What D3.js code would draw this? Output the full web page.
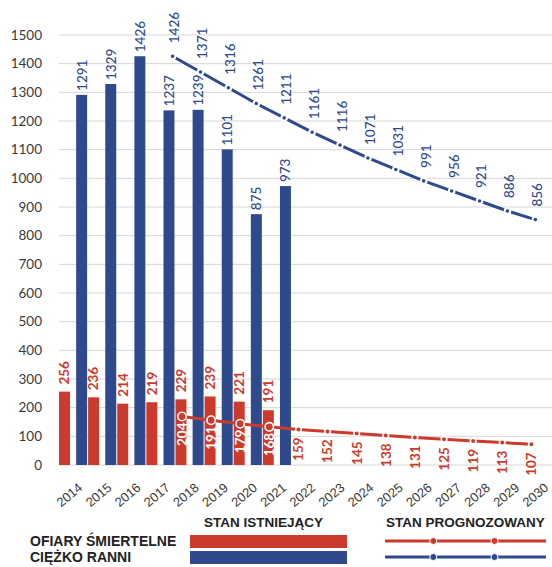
<!DOCTYPE html>
<html><head><meta charset="utf-8">
<script src="https://cdn.jsdelivr.net/npm/d3@7"></script>
<style>html,body{margin:0;padding:0;background:#fff;}svg{display:block;}</style>
</head><body>
<script>
const years = ["2014","2015","2016","2017","2018","2019","2020","2021","2022","2023","2024","2025","2026","2027","2028","2029","2030"];
const actualYears = ["2014","2015","2016","2017","2018","2019","2020","2021"];
const deathsActual = [256,236,214,219,229,239,221,191];
const injuredActual = [1291,1329,1426,1237,1239,1101,875,973];
const deathsForecastYears = ["2018","2019","2020","2021","2022","2023","2024","2025","2026","2027","2028","2029","2030"];
const deathsForecast = [204,191,179,168,159,152,145,138,131,125,119,113,107];
const injuredForecastYears = ["2017","2018","2019","2020","2021","2022","2023","2024","2025","2026","2027","2028","2029","2030"];
const injuredForecast = [1426,1371,1316,1261,1211,1161,1116,1071,1031,991,956,921,886,856];
const yTicks = [0,100,200,300,400,500,600,700,800,900,1000,1100,1200,1300,1400,1500];
const legendHeaders = ["STAN ISTNIEJĄCY","STAN PROGNOZOWANY"];
const legendSeries = ["OFIARY ŚMIERTELNE","CIĘŻKO RANNI"];

const RED = "#cc3a2c", BLUE = "#2f4a8c", TXT = "#3a3a3a";
const W = 552, H = 567;
const plot = {left: 59, right: 554, top: 35, bottom: 465};

const svg = d3.select("body").append("svg").attr("width", W).attr("height", H)
  .style("font-family", "Lato, 'Open Sans', sans-serif");

const x = d3.scaleBand().domain(years).range([plot.left, plot.right]).padding(0);
const x1 = d3.scaleBand().domain(["d","i"]).range([0, x.bandwidth()-1]).paddingInner(0.36).paddingOuter(0);
const y = d3.scaleLinear().domain([0,1500]).range([plot.bottom, plot.top]);
const yRight = d3.scaleLinear().domain([0,1500]).range([plot.bottom+10, plot.top+10]);
const xLine = d3.scalePoint().domain(injuredForecastYears)
  .range([x("2017")+x.bandwidth()*0.9, x("2030")+x.bandwidth()*0.36]);

// gridlines
svg.append("g").selectAll("line").data(yTicks).join("line")
  .attr("x1", plot.left).attr("x2", W).attr("y1", d=>y(d)).attr("y2", d=>y(d))
  .attr("stroke", "#d6d6d6").attr("stroke-width", 1);

// y axis labels
const yAxis = d3.axisLeft(y).tickValues(yTicks).tickFormat(d3.format("d")).tickSize(0).tickPadding(0);
const gy = svg.append("g").attr("transform", `translate(${plot.left-17},0)`).call(yAxis);
gy.select(".domain").remove();
gy.selectAll("text").attr("font-size", 13.5).attr("fill", TXT).attr("font-family", "Lato, sans-serif");

// x axis labels
const xAxis = d3.axisBottom(x).tickSize(0).tickPadding(0);
const gx = svg.append("g").attr("transform", `translate(0,${plot.bottom+17})`).call(xAxis);
gx.select(".domain").remove();
gx.selectAll("text").attr("font-size", 13).attr("fill", TXT)
  .attr("text-anchor", "end").attr("dy", "0.7em").attr("y", 0)
  .attr("transform", "translate(4,0) rotate(-40)");

// bars
const redBars = actualYears.map((yr,i)=>({yr, v: deathsActual[i]}));
const blueBars = actualYears.map((yr,i)=>({yr, v: injuredActual[i]}));
svg.append("g").selectAll("rect").data(redBars).join("rect")
  .attr("x", d=>x(d.yr)+x1("d")).attr("width", x1.bandwidth())
  .attr("y", d=>y(d.v)).attr("height", d=>y(0)-y(d.v)).attr("fill", RED);
svg.append("g").selectAll("rect").data(blueBars).join("rect")
  .attr("x", d=>x(d.yr)+x1("i")).attr("width", x1.bandwidth())
  .attr("y", d=>y(d.v)).attr("height", d=>y(0)-y(d.v)).attr("fill", BLUE);

function vlabel(g, data, fx, fy, anchor, fill, weight, size) {
  g.selectAll("text").data(data).join("text")
    .attr("transform", d=>`translate(${fx(d)},${fy(d)}) rotate(-90)`)
    .attr("text-anchor", anchor).attr("dy", "0.36em")
    .attr("fill", typeof fill === "function" ? fill : ()=>fill)
    .attr("font-weight", weight).attr("font-size", size)
    .text(d=>d.v);
}
vlabel(svg.append("g"), blueBars, d=>x(d.yr)+x1("i")+x1.bandwidth()/2, d=>y(d.v)-4, "start", BLUE, 500, 13.5);
vlabel(svg.append("g"), redBars, d=>x(d.yr)+x1("d")+x1.bandwidth()/2, d=>y(d.v)-7, "start", RED, 700, 13.5);

// red forecast line
const redF = deathsForecastYears.map((yr,i)=>({yr, v: deathsForecast[i], actual: actualYears.includes(yr)}));
const redX = d=>x(d.yr)+x1("d")+x1.bandwidth()/2+1;
svg.append("path").datum(redF)
  .attr("d", d3.line().x(redX).y(d=>yRight(d.v)))
  .attr("fill","none").attr("stroke", RED).attr("stroke-width", 3);
svg.append("g").selectAll("circle").data(redF).join("circle")
  .attr("cx", redX).attr("cy", d=>yRight(d.v))
  .attr("r", d=>d.actual ? 4.2 : 2.8)
  .attr("fill", RED).attr("stroke", "#fff").attr("stroke-width", d=>d.actual ? 1.6 : 1.6);
vlabel(svg.append("g"), redF, redX, d=>yRight(d.v)+(d.actual?6:8), "end", d=>d.actual?"#fff":RED, 700, 13.5);

// blue forecast line
const blueF = injuredForecastYears.map((yr,i)=>({yr, v: injuredForecast[i]}));
svg.append("path").datum(blueF)
  .attr("d", d3.line().x(d=>xLine(d.yr)).y(d=>y(d.v)))
  .attr("fill","none").attr("stroke", BLUE).attr("stroke-width", 3);
svg.append("g").selectAll("circle").data(blueF).join("circle")
  .attr("cx", d=>xLine(d.yr)).attr("cy", d=>y(d.v)).attr("r", 2.8)
  .attr("fill", BLUE).attr("stroke", "#fff").attr("stroke-width", 2);
vlabel(svg.append("g"), blueF, d=>xLine(d.yr)+2, d=>y(d.v)-13, "start", BLUE, 500, 13.5);

// legend
const lg = svg.append("g").style("font-family", "'Liberation Sans', Arial, sans-serif").attr("font-weight", 700);
const colBar = {x0: 190, x1: 347};
const colLine = {x0: 385, x1: 546};
lg.selectAll("text.hdr").data(legendHeaders).join("text").attr("class","hdr")
  .attr("x", (d,i)=> i===0 ? (colBar.x0+colBar.x1)/2 - 5 : (colLine.x0+colLine.x1)/2)
  .attr("y", 527).attr("text-anchor","middle").attr("font-size", 13.5).attr("fill", "#222").text(d=>d);
const rowY = [541, 557];
const rowCol = [RED, BLUE];
lg.selectAll("text.ser").data(legendSeries).join("text").attr("class","ser")
  .attr("x", 30).attr("y", (d,i)=>rowY[i]+5).attr("font-size", 14).attr("fill", "#222").text(d=>d);
lg.selectAll("rect").data(legendSeries).join("rect")
  .attr("x", colBar.x0).attr("width", colBar.x1-colBar.x0)
  .attr("y", (d,i)=>rowY[i]-6).attr("height", 13).attr("fill", (d,i)=>rowCol[i]);
lg.selectAll("line").data(legendSeries).join("line")
  .attr("x1", colLine.x0).attr("x2", colLine.x1).attr("y1", (d,i)=>rowY[i]).attr("y2", (d,i)=>rowY[i])
  .attr("stroke", (d,i)=>rowCol[i]).attr("stroke-width", 3);
const dotPos = [0.3, 0.68];
legendSeries.forEach((s,i)=>{
  lg.append("g").selectAll("circle").data(dotPos).join("circle")
    .attr("cx", p=>colLine.x0+(colLine.x1-colLine.x0)*p).attr("cy", rowY[i]).attr("r", 3.5)
    .attr("fill", rowCol[i]).attr("stroke", "#fff").attr("stroke-width", 1);
});
</script>
</body></html>
